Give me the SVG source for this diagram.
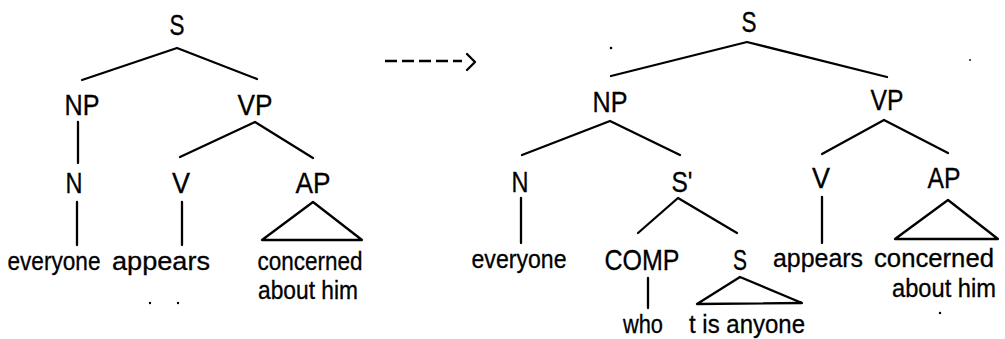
<svg xmlns="http://www.w3.org/2000/svg" width="1005" height="339" viewBox="0 0 1005 339">
<style>
.lab{font-family:"Liberation Sans",Arial,sans-serif;font-size:29px;fill:#000;text-anchor:middle;stroke:#000;stroke-width:0.3}
.wd{font-family:"Liberation Sans",Arial,sans-serif;font-size:26px;fill:#000;text-anchor:middle;stroke:#000;stroke-width:0.3}
.ln{stroke:#000;stroke-width:2.3;fill:none;stroke-linecap:round;stroke-linejoin:round}
.dot{fill:#000}
</style>
<rect width="1005" height="339" fill="#fff"/>
<!-- left tree nodes -->
<g id="L_S"><text class="lab" x="177" y="35" textLength="15" lengthAdjust="spacingAndGlyphs">S</text></g>
<g id="L_NP"><text class="lab" x="82" y="115" textLength="35" lengthAdjust="spacingAndGlyphs">NP</text></g>
<g id="L_VP"><text class="lab" x="255" y="115" textLength="35" lengthAdjust="spacingAndGlyphs">VP</text></g>
<g id="L_N"><text class="lab" x="74" y="193" textLength="17" lengthAdjust="spacingAndGlyphs">N</text></g>
<g id="L_V"><text class="lab" x="181" y="193" textLength="18" lengthAdjust="spacingAndGlyphs">V</text></g>
<g id="L_AP"><text class="lab" x="313" y="193" textLength="35" lengthAdjust="spacingAndGlyphs">AP</text></g>
<g id="L_everyone"><text class="wd" x="54" y="270" textLength="93" lengthAdjust="spacingAndGlyphs">everyone</text></g>
<g id="L_appears"><text class="wd" x="161" y="270" textLength="98" lengthAdjust="spacingAndGlyphs">appears</text></g>
<g id="L_concerned"><text class="wd" x="310" y="270" textLength="105" lengthAdjust="spacingAndGlyphs">concerned</text><text class="wd" x="308" y="299" textLength="100" lengthAdjust="spacingAndGlyphs">about him</text></g>
<!-- right tree nodes -->
<g id="R_S"><text class="lab" x="749" y="32" textLength="15" lengthAdjust="spacingAndGlyphs">S</text></g>
<g id="R_NP"><text class="lab" x="610" y="112" textLength="35" lengthAdjust="spacingAndGlyphs">NP</text></g>
<g id="R_VP"><text class="lab" x="887" y="110" textLength="33" lengthAdjust="spacingAndGlyphs">VP</text></g>
<g id="R_N"><text class="lab" x="520" y="192" textLength="17" lengthAdjust="spacingAndGlyphs">N</text></g>
<g id="R_Sbar"><text class="lab" x="682" y="192" textLength="21" lengthAdjust="spacingAndGlyphs">S'</text></g>
<g id="R_V"><text class="lab" x="821" y="188" textLength="18" lengthAdjust="spacingAndGlyphs">V</text></g>
<g id="R_AP"><text class="lab" x="944" y="188" textLength="33" lengthAdjust="spacingAndGlyphs">AP</text></g>
<g id="R_everyone"><text class="wd" x="519" y="268" textLength="95" lengthAdjust="spacingAndGlyphs">everyone</text></g>
<g id="R_COMP"><text class="lab" x="642" y="270" textLength="75" lengthAdjust="spacingAndGlyphs">COMP</text></g>
<g id="R_S2"><text class="lab" x="740" y="270" textLength="14" lengthAdjust="spacingAndGlyphs">S</text></g>
<g id="R_appears"><text class="wd" x="818" y="267" textLength="90" lengthAdjust="spacingAndGlyphs">appears</text></g>
<g id="R_concerned"><text class="wd" x="934" y="267" textLength="120" lengthAdjust="spacingAndGlyphs">concerned</text><text class="wd" x="944" y="297" textLength="104" lengthAdjust="spacingAndGlyphs">about him</text></g>
<g id="R_who"><text class="wd" x="643" y="333" textLength="40" lengthAdjust="spacingAndGlyphs">who</text></g>
<g id="R_tisanyone"><text class="wd" x="747" y="333" textLength="116" lengthAdjust="spacingAndGlyphs">t is anyone</text></g>
<!-- connectors -->
<g id="connectors" class="ln">
<path d="M82,80 L177,48 L257,79"/>
<path d="M78,122 L78,163"/>
<path d="M180,157 L255,122 L313,158"/>
<path d="M77,202 L77,245"/>
<path d="M182,202 L182,245"/>
<path d="M313,202 L262,240 L362,240 Z"/>
<path d="M385,61 L462,61" stroke-dasharray="12 5" stroke-linecap="butt"/>
<path d="M467,54 L475,62 L467,70"/>
<path d="M611,76 L747,42 L887,77"/>
<path d="M522,155 L610,121 L680,155"/>
<path d="M822,154 L884,120 L948,153"/>
<path d="M521,198 L521,243"/>
<path d="M638,233 L678,198 L737,233"/>
<path d="M822,197 L822,243"/>
<path d="M948,200 L895,239 L998,239 Z"/>
<path d="M648,278 L648,308"/>
<path d="M740,277 L697,304 L802,303 Z"/>
</g>
<g id="specks">
<circle class="dot" cx="150" cy="303" r="1.2"/>
<circle class="dot" cx="178" cy="303" r="1.2"/>
<circle class="dot" cx="611" cy="48" r="1.3"/>
<circle class="dot" cx="970" cy="60" r="0.9"/>
<circle class="dot" cx="940" cy="313" r="1.2"/>
</g>
</svg>
